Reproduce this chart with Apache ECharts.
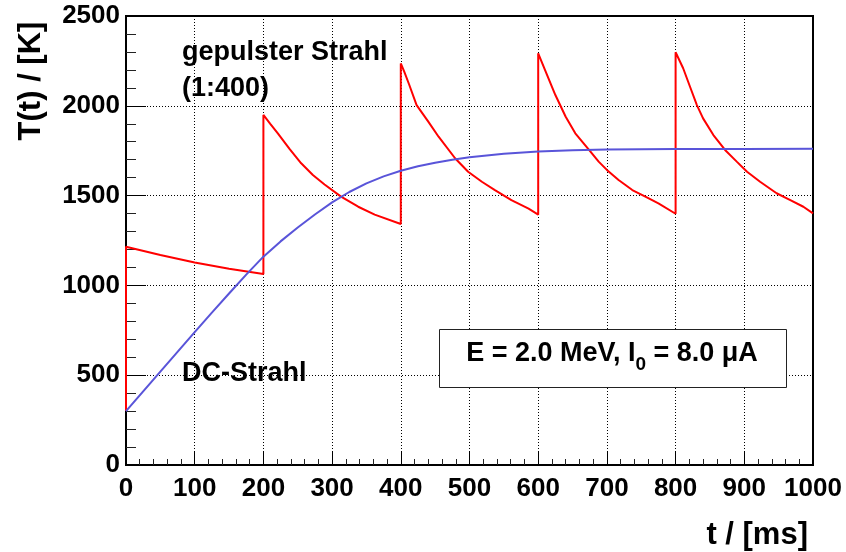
<!DOCTYPE html>
<html>
<head>
<meta charset="utf-8">
<script src="https://cdn.jsdelivr.net/npm/echarts@6/dist/echarts.min.js"></script>
<style>
html,body{margin:0;padding:0;background:#fff;}
#chart{width:846px;height:552px;}
</style>
</head>
<body>
<div id="chart"></div>
<script>
// Pulsed beam (1:400) temperature
const pulsedTime = [0, 0, 50, 100, 150, 200,
  200, 210, 221, 238, 255, 272, 289, 313, 338, 362, 400,
  400, 405, 412, 423, 440, 455, 479, 498, 518, 537, 561, 586, 600,
  600, 610, 625, 640, 654, 674, 688, 700, 717, 737, 756, 775, 800,
  800, 811, 821, 831, 840, 855, 872, 889, 904, 923, 947, 967, 986, 1000];
const pulsedTemp = [300, 1215, 1169, 1127, 1093, 1063,
  1949, 1900, 1847, 1760, 1680, 1615, 1562, 1494, 1438, 1394, 1342,
  2236, 2190, 2120, 2004, 1912, 1828, 1708, 1633, 1577, 1531, 1475, 1427, 1394,
  2292, 2199, 2060, 1939, 1847, 1754, 1689, 1643, 1587, 1531, 1494, 1457, 1399,
  2298, 2209, 2106, 2004, 1930, 1837, 1754, 1689, 1633, 1577, 1513, 1475, 1438, 1401];

// DC beam temperature
const dcTime = [0, 25, 50, 75, 100, 125, 150, 175, 200, 225, 250, 275, 300, 325, 350, 375, 400, 425, 450, 475, 500, 550, 600, 650, 700, 800, 900, 1000];
const dcTemp = [300, 410, 520, 630, 740, 848, 955, 1060, 1160, 1245, 1322, 1395, 1462, 1520, 1568, 1607, 1638, 1663, 1683, 1700, 1713, 1733, 1745, 1752, 1756, 1759, 1760, 1761];

const xLabel = 't / [ms]';
const yLabel = 'T(t) / [K]';
const pulsedLabel = 'gepulster Strahl\n(1:400)';
const dcLabel = 'DC-Strahl';

const FONT = "'Liberation Sans', Arial, Helvetica, sans-serif";

const chart = echarts.init(document.getElementById('chart'), null, {renderer: 'canvas'});

const pulsedData = pulsedTime.map((t, i) => [t, pulsedTemp[i]]);
const dcData = dcTime.map((t, i) => [t, dcTemp[i]]);

const option = {
  animation: false,
  backgroundColor: '#fff',
  grid: {
    left: 126, right: 33, top: 16, bottom: 87,
    show: true, borderColor: '#000', borderWidth: 2, backgroundColor: 'transparent'
  },
  xAxis: {
    type: 'value', min: 0, max: 1000, interval: 100,
    axisLine: {show: true, lineStyle: {color: '#000', width: 2}},
    axisTick: {show: true, inside: true, length: 13, lineStyle: {color: '#000', width: 1}},
    minorTick: {show: true, splitNumber: 5, length: 6, lineStyle: {color: '#222', width: 1}},
    splitLine: {show: true, lineStyle: {color: '#000', width: 1, type: [1, 2]}},
    axisLabel: {show: true, margin: 11, color: '#000', fontSize: 26, fontWeight: 'bold', fontFamily: FONT,
      showMinLabel: true, showMaxLabel: true, formatter: v => String(v)}
  },
  yAxis: {
    type: 'value', min: 0, max: 2500, interval: 500,
    axisLine: {show: true, lineStyle: {color: '#000', width: 2}},
    axisTick: {show: true, inside: true, length: 20, lineStyle: {color: '#000', width: 1}},
    minorTick: {show: true, splitNumber: 5, length: 10, lineStyle: {color: '#222', width: 1}},
    splitLine: {show: true, lineStyle: {color: '#000', width: 1, type: [1, 2]}},
    axisLabel: {show: true, margin: 6, color: '#000', fontSize: 26, fontWeight: 'bold', fontFamily: FONT,
      padding: [5, 0, 0, 0], showMinLabel: true, showMaxLabel: true, formatter: v => String(v)}
  },
  series: [
    {
      name: 'gepulster Strahl', type: 'line', data: pulsedData, showSymbol: false,
      lineStyle: {color: '#ff0000', width: 2}, itemStyle: {color: '#ff0000'}, z: 3
    },
    {
      name: 'DC-Strahl', type: 'line', data: dcData, showSymbol: false,
      lineStyle: {color: '#5954d9', width: 2}, itemStyle: {color: '#5954d9'}, z: 4
    }
  ],
  graphic: [
    {type: 'text', x: 31, y: 81, rotation: Math.PI / 2,
      style: {text: yLabel, fill: '#000', fontSize: 31, fontWeight: 'bold', fontFamily: FONT,
        align: 'center', verticalAlign: 'middle'}},
    {type: 'text', x: 808, y: 535,
      style: {text: xLabel, fill: '#000', fontSize: 31, fontWeight: 'bold', fontFamily: FONT,
        align: 'right', verticalAlign: 'middle'}},
    {type: 'text', x: 182, y: 35,
      style: {text: pulsedLabel, fill: '#000', fontSize: 27, fontWeight: 'bold', fontFamily: FONT,
        lineHeight: 36, align: 'left', verticalAlign: 'top'}},
    {type: 'text', x: 182, y: 374,
      style: {text: dcLabel, fill: '#000', fontSize: 27, fontWeight: 'bold', fontFamily: FONT,
        align: 'left', verticalAlign: 'middle'}},
    {type: 'rect', shape: {x: 439.5, y: 329.5, width: 347, height: 58},
      style: {fill: '#fff', stroke: '#222', lineWidth: 1}, z: 10},
    {type: 'text', x: 612, y: 354, z: 11,
      style: {
        text: '{a|E = 2.0 MeV, I}{s|0}{a| = 8.0 μA}',
        align: 'center', verticalAlign: 'middle',
        rich: {
          a: {fontSize: 27, fontWeight: 'bold', fontFamily: FONT, fill: '#000', lineHeight: 30},
          s: {fontSize: 19, fontWeight: 'bold', fontFamily: FONT, fill: '#000', lineHeight: 19, padding: [22, 0, 0, 0]}
        }
      }}
  ]
};
chart.setOption(option);
</script>
</body>
</html>
